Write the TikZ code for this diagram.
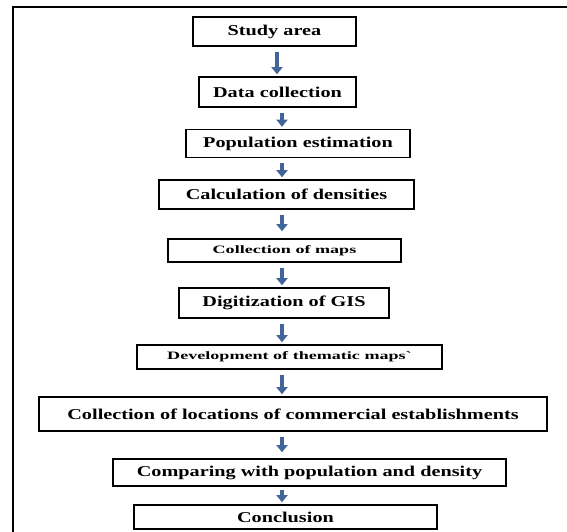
\documentclass[tikz,border=0pt]{standalone}
\usepackage{fontspec}
\setmainfont[FakeStretch=1.35]{Liberation Serif}
\newfontfamily\smallserif[FakeStretch=1.6]{Liberation Serif}
\usetikzlibrary{arrows.meta}
\definecolor{arrowblue}{HTML}{41649A}
\begin{document}
\begin{tikzpicture}[x=1pt,y=-1pt,
  stepbox/.style={draw,line width=1.6pt,inner sep=0pt,align=center,
    font=\bfseries\fontsize{15}{18}\selectfont},
  smallbox/.style={stepbox,font=\smallserif\bfseries\fontsize{11.3}{14}\selectfont},
  flowarrow/.style={draw=arrowblue,line width=4.5pt,
    -{Triangle[width=11pt,length=7pt]},shorten <=5pt,shorten >=2pt}]
\useasboundingbox (0,0) rectangle (567,531);
\clip (0,0) rectangle (567,531);
% outer frame
\draw[line width=2pt] (600,7) -- (13,7) -- (13,560);
% boxes
\node[stepbox,minimum width=163pt,minimum height=29pt] (s1) at (274.5,31.5) {Study area};
\node[stepbox,minimum width=157pt,minimum height=30pt] (s2) at (277.5,92) {Data collection};
\node[stepbox,minimum width=224pt,minimum height=28pt] (s3) at (298,143.5) {Population estimation};
\node[stepbox,minimum width=255pt,minimum height=29pt] (s4) at (286.5,194.5) {Calculation of densities};
\node[smallbox,minimum width=233pt,minimum height=23pt] (s5) at (284.5,250.5) {Collection of maps};
\node[stepbox,minimum width=210pt,minimum height=30pt] (s6) at (284,303) {Digitization of GIS};
\node[smallbox,minimum width=305pt,minimum height=24pt] (s7) at (289.5,357) {Development of thematic maps`};
\node[stepbox,minimum width=508pt,minimum height=34pt] (s8) at (293,414) {Collection of locations of commercial establishments};
\node[stepbox,minimum width=393pt,minimum height=27pt] (s9) at (309.5,472.5) {Comparing with population and density};
\node[stepbox,minimum width=303pt,minimum height=24pt] (s10) at (285.5,517) {Conclusion};
% arrow axis
\coordinate (ax1) at (277,0);
\coordinate (ax) at (282,0);
\draw[flowarrow] (s1.south -| ax1) -- (s2.north -| ax1);
\draw[flowarrow] (s2.south -| ax) -- (s3.north -| ax);
\draw[flowarrow] (s3.south -| ax) -- (s4.north -| ax);
\draw[flowarrow,shorten >=7pt] (s4.south -| ax) -- (s5.north -| ax);
\draw[flowarrow] (s5.south -| ax) -- (s6.north -| ax);
\draw[flowarrow] (s6.south -| ax) -- (s7.north -| ax);
\draw[flowarrow] (s7.south -| ax) -- (s8.north -| ax);
\draw[flowarrow,shorten >=6pt] (s8.south -| ax) -- (s9.north -| ax);
\draw[flowarrow,shorten <=3pt] (s9.south -| ax) -- (s10.north -| ax);
\end{tikzpicture}
\end{document}
